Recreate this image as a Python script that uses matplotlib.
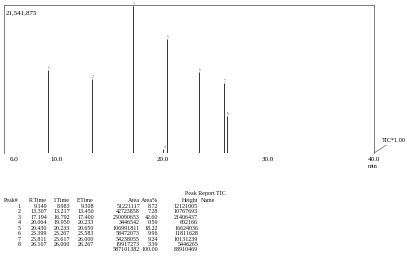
import matplotlib
matplotlib.use("Agg")
import matplotlib.pyplot as plt

# peak table (Peak Report TIC)
peak_no = [1, 2, 3, 4, 5, 6, 7, 8]
r_time = [9.149, 13.307, 17.194, 20.064, 20.430, 23.399, 25.811, 26.107]
i_time = [8.983, 13.217, 16.792, 19.950, 20.233, 23.267, 25.617, 26.000]
f_time = [9.308, 13.450, 17.400, 20.233, 20.650, 23.583, 26.000, 26.267]
area = [51221117, 42723858, 250090653, 3446542, 106991811, 58472073, 54238055, 19917273]
area_pct = [8.72, 7.28, 42.60, 0.59, 18.22, 9.96, 9.24, 3.39]
height = [12121005, 10767693, 21406437, 602166, 16624036, 11811628, 10131239, 5446265]
total_area = 587101382
total_pct = 100.00
total_height = 88910469

y_max = 21541875
x_ticks = [6.0, 10.0, 20.0, 30.0, 40.0]

W, H = 415, 264
plt.rcParams['font.family'] = ['Liberation Serif', 'DejaVu Serif']
fig = plt.figure(figsize=(W / 100, H / 100), dpi=100)

def px(x, y):
    # pixel position (from top left) -> figure fraction
    return x / W, 1 - y / H

# chromatogram
ax = fig.add_axes([4 / W, 1 - 153 / H, (374 - 4) / W, (153 - 5) / H])
ax.hlines(0, 5.0, 40.0, color='#444', lw=0.6)
ax.vlines(r_time, 0, height, color='#333', lw=0.7)
for n, x, h in zip(peak_no, r_time, height):
    ax.text(x + 0.1, h, str(n), fontsize=2.5, color='#555', ha='center', va='bottom')
ax.set_xlim(5.0, 40.0)
ax.set_ylim(0, y_max)
ax.set_yticks([])
ax.set_xticks(x_ticks)
ax.set_xticklabels([f"{t:.1f}" for t in x_ticks], fontsize=5)
ax.tick_params(axis='x', length=0, pad=3)
for s in ax.spines.values():
    s.set_color('#666')
    s.set_linewidth(0.6)
ax.spines['bottom'].set_visible(False)
ax.text(0.005, 0.965, f"{y_max:,}", transform=ax.transAxes, fontsize=5, va='top', ha='left')
ax.annotate("TIC*1.00", xy=(40.0, 0), xytext=px(382, 140), textcoords='figure fraction',
            fontsize=4.5, va='center', ha='left', annotation_clip=False,
            arrowprops=dict(arrowstyle='-', color='#666', lw=0.5, shrinkA=0, shrinkB=0))
fig.text(*px(373, 167), "min", fontsize=4.5, ha='center', va='center')

# peak table
fs = 4.3
col = '#111'
fig.text(*px(185, 193), "Peak Report TIC", fontsize=fs, ha='left', va='center', color=col)
cols = [("Peak#", 21), ("R.Time", 47), ("I.Time", 70), ("F.Time", 94),
        ("Area", 140), ("Area%", 158), ("Height", 198)]
head_y = 200.5
for name, xr in cols:
    if name == "Peak#":
        fig.text(*px(4, head_y), name, fontsize=fs, ha='left', va='center', color=col)
    else:
        fig.text(*px(xr, head_y), name, fontsize=fs, ha='right', va='center', color=col)
fig.text(*px(201, head_y), "Name", fontsize=fs, ha='left', va='center', color=col)

row0, step = 206.5, 5.45
for k in range(len(peak_no)):
    y = row0 + k * step
    vals = [str(peak_no[k]), f"{r_time[k]:.3f}", f"{i_time[k]:.3f}", f"{f_time[k]:.3f}",
            str(area[k]), f"{area_pct[k]:.2f}", str(height[k])]
    for v, (_, xr) in zip(vals, cols):
        fig.text(*px(xr, y), v, fontsize=fs, ha='right', va='center', color=col)
y = row0 + len(peak_no) * step - 0.5
fig.text(*px(140, y), str(total_area), fontsize=fs, ha='right', va='center', color=col)
fig.text(*px(158, y), f"{total_pct:.2f}", fontsize=fs, ha='right', va='center', color=col)
fig.text(*px(198, y), str(total_height), fontsize=fs, ha='right', va='center', color=col)

fig.savefig("out.png", dpi=100)
